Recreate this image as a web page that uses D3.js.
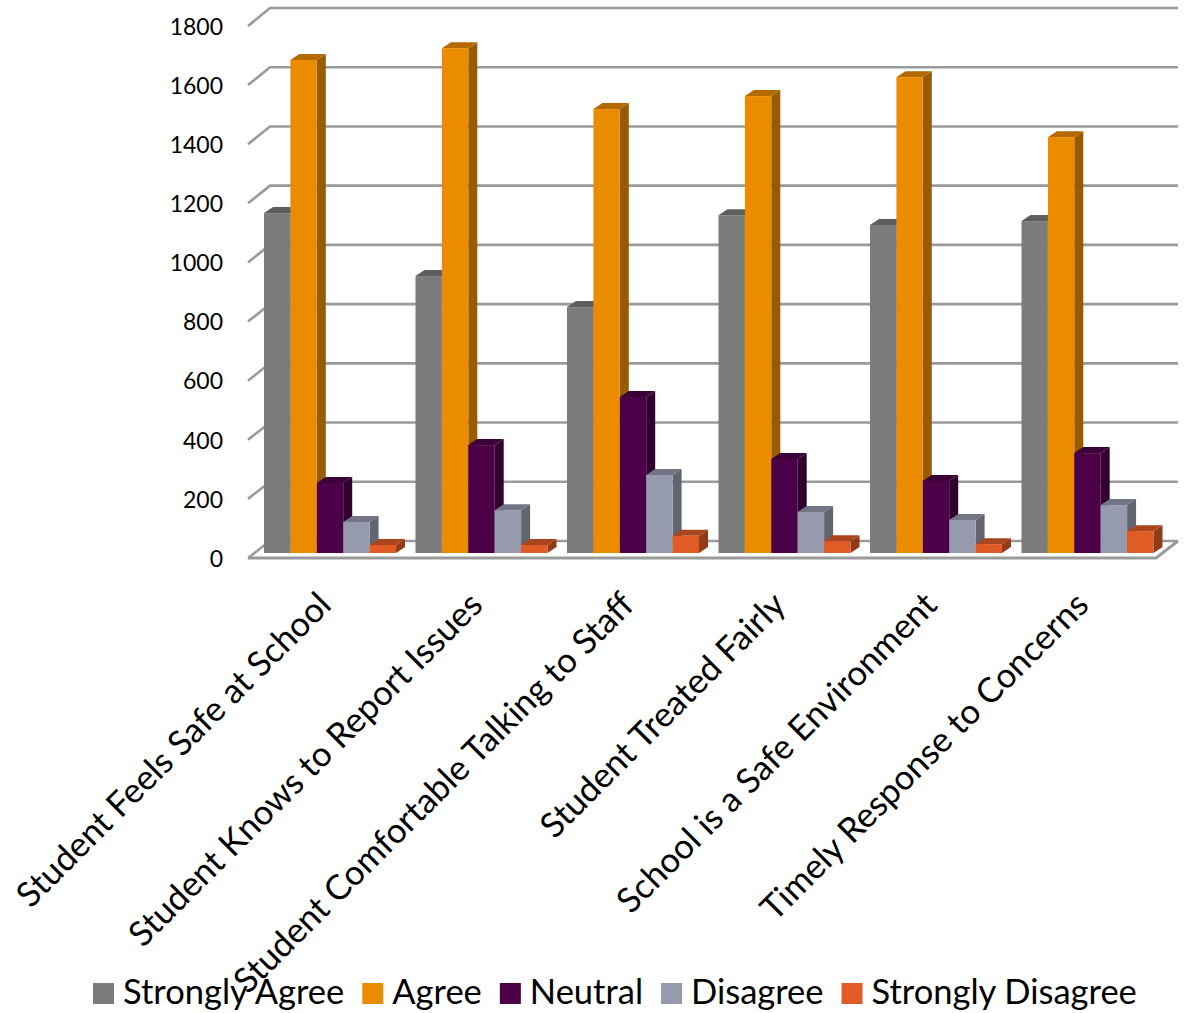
<!DOCTYPE html>
<html>
<head>
<meta charset="utf-8">
<script src="https://cdn.jsdelivr.net/npm/d3@7"></script>
<style>
html,body{margin:0;padding:0;background:#fff}
text{font-family:Lato,"Open Sans",sans-serif;fill:#000}
</style>
</head>
<body>
<svg id="chart" width="1184" height="1013"></svg>
<script>
var categories = ['Student Feels Safe at School','Student Knows to Report Issues','Student Comfortable Talking to Staff','Student Treated Fairly','School is a Safe Environment','Timely Response to Concerns']
var seriesNames = ['Strongly Agree','Agree','Neutral','Disagree','Strongly Disagree']
var stronglyAgree = [1150,937,832,1143,1110,1123]
var agree = [1668,1708,1502,1546,1610,1407]
var neutral = [237,365,528,318,244,338]
var disagree = [105,145,264,139,112,162]
var stronglyDisagree = [27,27,58,40,30,74]
var tickValues = [0,200,400,600,800,1000,1200,1400,1600,1800]

var seriesValues = [stronglyAgree,agree,neutral,disagree,stronglyDisagree]
var colors = ['#7c7c7c','#eb8c00','#4c0048','#969aad','#e05b26']

var svg = d3.select('#chart')

function shade(c,k){
	var o = d3.rgb(c)
	return d3.rgb(o.r*k,o.g*k,o.b*k).formatHex()
}

// the box: front wall edge, back wall edge and the bar baseline
var wallDx = 22
var frontLeft = 248, frontRight = 1156
var yFront = d3.scaleLinear().domain([0,1800]).range([558,26])
var yBack = d3.scaleLinear().domain([0,1800]).range([541,8])
var yBar = d3.scaleLinear().domain([0,1800]).range([553,21])
var depthX = 9, depthY = 6

var x0 = d3.scaleBand().domain(categories).range([254.25,1163.25]).paddingInner(0.1287).paddingOuter(0.0644)
var x1 = d3.scaleBand().domain(seriesNames).range([0,x0.bandwidth()])

// grid lines run along the back wall and step down the left side
var grid = svg.append('g').attr('id','grid')
tickValues.forEach(function(e){
	grid.append('path')
		.attr('d',d3.line()([[frontLeft,yFront(e)],[frontLeft+wallDx,yBack(e)],[frontRight+wallDx,yBack(e)]]))
		.attr('fill','none').attr('stroke','#9a9a9a').attr('stroke-width',2.6)
})
grid.append('path')
	.attr('d',d3.line()([[frontLeft,yFront(0)],[frontRight,yFront(0)],[frontRight+wallDx,yBack(0)]]))
	.attr('fill','none').attr('stroke','#9a9a9a').attr('stroke-width',3)

// bars, left to right so each front face sits over its neighbour's side
var bars = svg.append('g').attr('id','bars')
categories.forEach(function(c,ci){
	var group = bars.append('g').attr('id','group-'+ci).attr('transform','translate('+x0(c)+',0)')
	seriesNames.forEach(function(s,si){
		var v = seriesValues[si][ci]
		var l = x1(s), r = l + x1.bandwidth(), t = yBar(v), b = yBar(0)
		group.append('polygon')
			.attr('points',[[r,t],[r+depthX,t-depthY],[r+depthX,b-depthY],[r,b]].join(' '))
			.attr('fill',shade(colors[si],0.65))
		group.append('polygon')
			.attr('points',[[l,t],[l+depthX,t-depthY],[r+depthX,t-depthY],[r,t]].join(' '))
			.attr('fill',shade(colors[si],0.76))
		group.append('rect')
			.attr('x',l).attr('y',t).attr('width',r-l).attr('height',b-t)
			.attr('fill',colors[si])
	})
})

// value axis
var yAxis = svg.append('g').attr('id','y-axis')
	.attr('transform','translate(223,0)')
	.call(d3.axisLeft(yFront).tickValues(tickValues).tickSize(0).tickPadding(0).tickFormat(d3.format('d')))
yAxis.select('.domain').remove()
yAxis.selectAll('text').style('font-family','Lato').style('font-size','23px').attr('fill','#000').attr('dy','0.36em')

// slanted category labels
svg.append('g').attr('id','x-labels').selectAll('text').data(categories).enter().append('text')
	.attr('text-anchor','end')
	.attr('transform',function(d){ return 'translate('+(x0(d)+x0.bandwidth()/2+3)+',607) rotate(-45)' })
	.style('font-size','34.5px')
	.text(function(d){ return d })

// legend, laid out from the measured label widths
var legend = svg.append('g').attr('id','legend')
var lx = 93
seriesNames.forEach(function(s,i){
	legend.append('rect').attr('x',lx).attr('y',983).attr('width',21).attr('height',21).attr('fill',colors[i])
	var t = legend.append('text').attr('x',lx+30).attr('y',1004).style('font-size','34.5px').text(s)
	lx += 30 + t.node().getComputedTextLength() + 18
})
</script>
</body>
</html>
